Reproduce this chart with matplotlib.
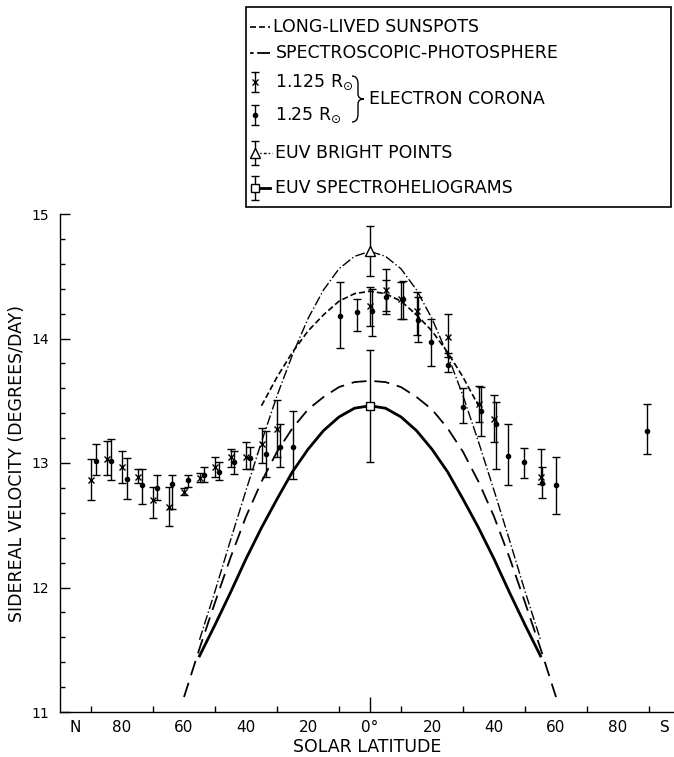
import matplotlib
matplotlib.use('Agg')
import matplotlib.pyplot as plt
from matplotlib.ticker import MultipleLocator
from matplotlib.path import Path
from matplotlib.patches import PathPatch, Rectangle

# ---------------- data ----------------
# curves: latitude (deg, N negative) and sidereal velocity (deg/day)
sunspot_lat = [-35, -30, -25, -20, -15, -10, -5, 0, 5, 10, 15, 20, 25, 30, 35]
sunspot_vel = [13.46, 13.69, 13.89, 14.06, 14.19, 14.30, 14.36, 14.38,
               14.36, 14.30, 14.19, 14.06, 13.89, 13.69, 13.46]

photo_lat = [-60, -55, -50, -45, -40, -35, -30, -25, -20, -15, -10, -5, 0,
             5, 10, 15, 20, 25, 30, 35, 40, 45, 50, 55, 60]
photo_vel = [11.12, 11.51, 11.88, 12.24, 12.57, 12.85, 13.09, 13.28, 13.43,
             13.53, 13.61, 13.65, 13.66, 13.65, 13.61, 13.53, 13.43, 13.28,
             13.09, 12.85, 12.57, 12.24, 11.88, 11.51, 11.12]

bright_lat = [-55, -50, -45, -40, -35, -30, -25, -20, -15, -10, -5, 0,
              5, 10, 15, 20, 25, 30, 35, 40, 45, 50, 55]
bright_vel = [11.58, 11.97, 12.38, 12.78, 13.17, 13.54, 13.87, 14.16, 14.39,
              14.56, 14.66, 14.70, 14.66, 14.56, 14.39, 14.16, 13.87, 13.54,
              13.17, 12.78, 12.38, 11.97, 11.58]

spec_lat = [-55, -50, -45, -40, -35, -30, -25, -20, -15, -10, -5, 0,
            5, 10, 15, 20, 25, 30, 35, 40, 45, 50, 55]
spec_vel = [11.45, 11.70, 11.96, 12.23, 12.48, 12.71, 12.93, 13.11, 13.26,
            13.37, 13.44, 13.46, 13.44, 13.37, 13.26, 13.11, 12.93, 12.71,
            12.48, 12.23, 11.96, 11.70, 11.45]

# electron corona 1.125 Ro (crosses)
c1125_lat = [-90, -85, -80, -75, -70, -65, -60, -55, -50, -45, -40, -35, -30,
             0, 5, 10, 15, 25, 35, 40, 55]
c1125_vel = [12.86, 13.03, 12.97, 12.89, 12.70, 12.65, 12.77, 12.88, 12.97,
             13.05, 13.05, 13.15, 13.27, 14.26, 14.39, 14.32, 14.22, 14.01,
             13.47, 13.35, 12.89]
c1125_hi = [13.03, 13.18, 13.10, 12.95, 12.81, 12.81, 12.80, 12.92, 13.05,
            13.11, 13.17, 13.28, 13.51, 14.41, 14.56, 14.45, 14.37, 14.20,
            13.62, 13.55, 13.11]
c1125_lo = [12.70, 12.90, 12.84, 12.84, 12.56, 12.49, 12.74, 12.85, 12.89,
            12.97, 12.95, 13.00, 13.05, 14.10, 14.22, 14.16, 14.03, 13.85,
            13.33, 13.17, 12.83]

# electron corona 1.25 Ro (dots)
c125_lat = [-88.5, -83.6, -78.3, -73.4, -68.6, -63.8, -58.6, -53.5, -48.6,
            -43.9, -38.7, -33.7, -29.0, -24.7, -9.7, -4.3, 0.5, 5.2, 10.8,
            15.6, 19.6, 25.3, 29.9, 35.7, 40.5, 44.6, 49.7, 55.6, 59.9, 89.5]
c125_vel = [13.02, 13.02, 12.87, 12.82, 12.80, 12.83, 12.86, 12.90, 12.93,
            13.01, 13.04, 13.07, 13.13, 13.13, 14.18, 14.21, 14.22, 14.33,
            14.32, 14.15, 13.97, 13.79, 13.45, 13.42, 13.31, 13.06, 13.01,
            12.84, 12.82, 13.26]
c125_hi = [13.15, 13.19, 13.04, 12.95, 12.90, 12.90, 12.90, 12.97, 13.01,
           13.10, 13.13, 13.26, 13.31, 13.42, 14.45, 14.32, 14.40, 14.47,
           14.46, 14.33, 14.16, 13.88, 13.60, 13.61, 13.49, 13.31, 13.12,
           12.97, 13.05, 13.47]
c125_lo = [12.90, 12.86, 12.71, 12.67, 12.70, 12.63, 12.81, 12.85, 12.86,
           12.91, 12.95, 12.89, 12.97, 12.87, 13.92, 14.06, 14.02, 14.20,
           14.16, 13.97, 13.78, 13.73, 13.32, 13.22, 12.95, 12.82, 12.88,
           12.72, 12.59, 13.07]

# single EUV points
bp_lat = [0]
bp_vel = [14.70]
bp_err = [0.20]
sh_lat = [0]
sh_vel = [13.46]
sh_err = [0.45]

xtick_pos = [-95, -80, -60, -40, -20, 0, 20, 40, 60, 80, 95]
xtick_labels = ['N', '80', '60', '40', '20', '0°', '20', '40', '60', '80', 'S']
ytick_vals = [11, 12, 13, 14, 15]
ytick_labels = ['11', '12', '13', '14', '15']

# ---------------- figure ----------------
W, H = 674, 757
fig = plt.figure(figsize=(W / 100, H / 100), dpi=100)
fig.patch.set_facecolor('white')

lax = fig.add_axes([0, 0, 1, 1], zorder=0)
lax.set_xlim(0, W)
lax.set_ylim(H, 0)
lax.axis('off')

ax = fig.add_axes([60 / W, (H - 712) / H, 614 / W, (712 - 214) / H], zorder=1)
ax.patch.set_alpha(0)
ax.set_xlim(-100, 98.06)
ax.set_ylim(11, 15)

SHORT = (0, (3.6, 1.8))
LONG = (0, (8.3, 4.4))
DASHDOT = (0, (7, 1.8, 1, 1.8))

ax.plot(sunspot_lat, sunspot_vel, color='k', lw=1.2, ls=SHORT)
ax.plot(photo_lat, photo_vel, color='k', lw=1.3, ls=LONG)
ax.plot(bright_lat, bright_vel, color='k', lw=1.0, ls=DASHDOT)
ax.plot(spec_lat, spec_vel, color='k', lw=2.0, ls='-')

err_kw = dict(color='k', ecolor='k', elinewidth=1.0, capsize=3, capthick=1.0)
ax.errorbar(c1125_lat, c1125_vel,
            yerr=[[v - l for v, l in zip(c1125_vel, c1125_lo)],
                  [h - v for v, h in zip(c1125_vel, c1125_hi)]],
            fmt='x', ms=5, mew=1.0, zorder=3, **err_kw)
ax.errorbar(c125_lat, c125_vel,
            yerr=[[v - l for v, l in zip(c125_vel, c125_lo)],
                  [h - v for v, h in zip(c125_vel, c125_hi)]],
            fmt='o', ms=3, zorder=3, **err_kw)
ax.errorbar(bp_lat, bp_vel, yerr=bp_err, fmt='^', ms=7, mfc='white', mec='k',
            mew=1.0, zorder=4, **err_kw)
ax.errorbar(sh_lat, sh_vel, yerr=sh_err, fmt='s', ms=6, mfc='white', mec='k',
            mew=1.0, zorder=4, **err_kw)

for s in ('top', 'right'):
    ax.spines[s].set_visible(False)
for s in ('left', 'bottom'):
    ax.spines[s].set_linewidth(1.0)

ax.set_yticks(ytick_vals, ytick_labels)
ax.yaxis.set_minor_locator(MultipleLocator(0.2))
ax.tick_params(axis='y', which='major', direction='in', length=7, width=1,
               pad=8, labelsize=10)
ax.tick_params(axis='y', which='minor', direction='in', length=3.5, width=1)

ax.set_xticks(xtick_pos, xtick_labels)
ax.set_xticks(list(range(-90, 91, 10)), minor=True)
ax.tick_params(axis='x', which='major', length=0, pad=6, labelsize=11)
ax.tick_params(axis='x', which='minor', direction='in', length=4, width=1)

sec = ax.secondary_xaxis('bottom')
sec.set_xticks([0], [''])
sec.tick_params(direction='in', length=11, width=1)
sec.spines['bottom'].set_visible(False)

ax.set_xlabel('SOLAR LATITUDE', fontsize=12.5, labelpad=2)
ax.set_ylabel('SIDEREAL VELOCITY (DEGREES/DAY)', fontsize=12.5, labelpad=4)

# ---------------- legend box (figure pixel coordinates) ----------------
lax.add_patch(Rectangle((246, 7), 425, 200, fill=False, lw=1.2, ec='k'))
tk = dict(fontsize=12.5, va='center', ha='left')

lax.plot([250, 270], [27, 27], color='k', lw=1.2, ls=SHORT)
lax.text(273, 27, 'LONG-LIVED SUNSPOTS', **tk)

lax.plot([250, 270], [53, 53], color='k', lw=1.3, ls=(0, (2, 2, 8, 2)))
lax.text(276, 53, 'SPECTROSCOPIC-PHOTOSPHERE', **tk)

lax.errorbar([255], [82], yerr=[10], fmt='x', ms=5, mew=1.0, **err_kw)
lax.text(275, 82, '1.125 R$_{\\odot}$', **tk)
lax.errorbar([255], [115], yerr=[10], fmt='o', ms=3, **err_kw)
lax.text(275, 115, '1.25 R$_{\\odot}$', **tk)

brace = Path([(352, 76), (358, 76), (358, 84), (358, 92), (358, 94),
              (358, 99), (364, 99), (358, 99), (358, 104),
              (358, 108), (358, 114), (358, 122), (352, 122)],
             [Path.MOVETO, Path.CURVE3, Path.CURVE3, Path.LINETO, Path.LINETO,
              Path.CURVE3, Path.CURVE3, Path.CURVE3, Path.CURVE3,
              Path.LINETO, Path.LINETO, Path.CURVE3, Path.CURVE3])
lax.add_patch(PathPatch(brace, fill=False, lw=1.0, ec='k'))
lax.text(369, 99, 'ELECTRON CORONA', **tk)

lax.plot([255, 272], [153, 153], color='k', lw=1.0, ls=(0, (2, 1.5, 1, 1.5)))
lax.errorbar([255], [153], yerr=[12], fmt='^', ms=7, mfc='white', mec='k',
             mew=1.0, **err_kw)
lax.text(275, 153, 'EUV BRIGHT POINTS', **tk)

lax.plot([255, 270], [188, 188], color='k', lw=2.0)
lax.errorbar([255], [188], yerr=[12], fmt='s', ms=6, mfc='white', mec='k',
             mew=1.0, **err_kw)
lax.text(275, 188, 'EUV SPECTROHELIOGRAMS', **tk)

fig.savefig('out.png', dpi=100)
